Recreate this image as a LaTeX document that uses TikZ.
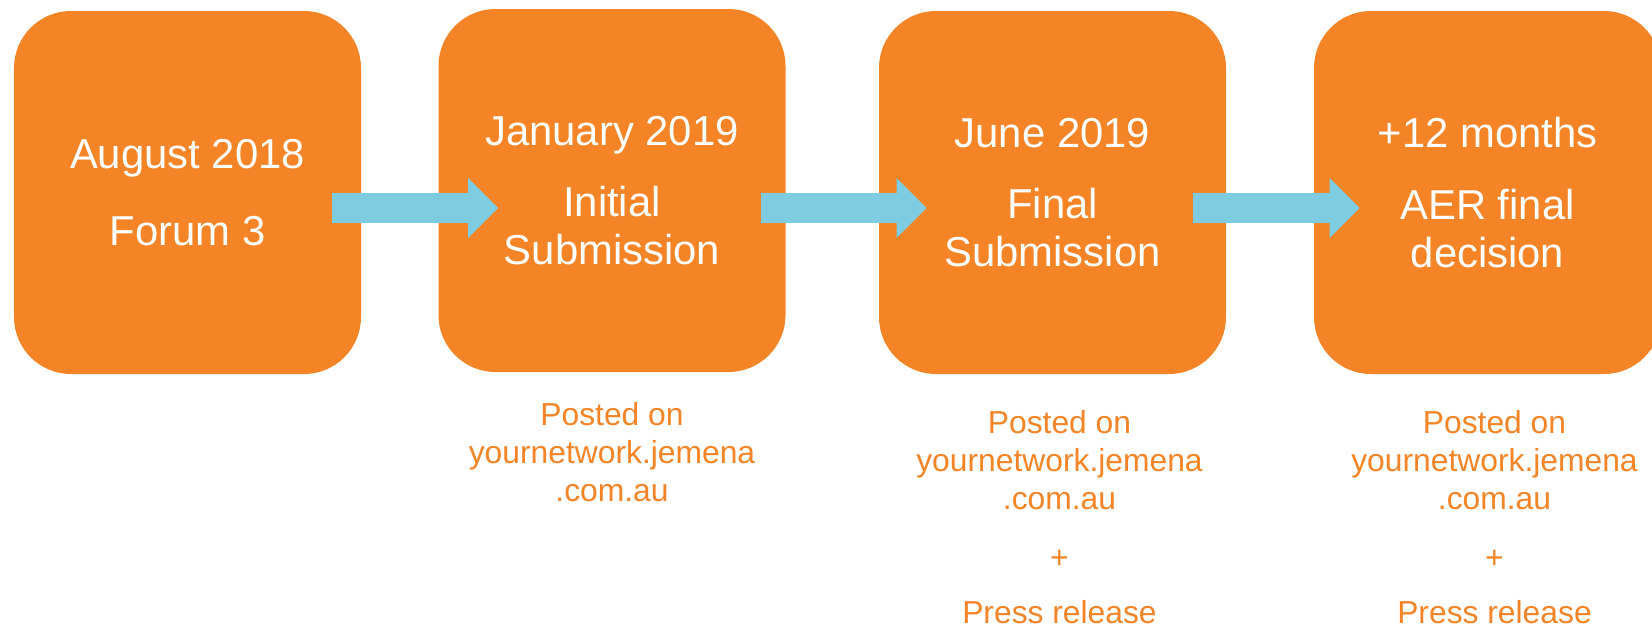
\documentclass[tikz,border=0pt]{standalone}
\usepackage{fontspec}
\setmainfont{Liberation Sans}
\usetikzlibrary{positioning,arrows.meta}
\definecolor{jemorange}{RGB}{244,132,37}
\definecolor{flowblue}{RGB}{126,204,224}

\begin{document}
\begin{tikzpicture}[
  stage/.style={fill=jemorange,rounded corners=1.14cm,minimum width=6.94cm,
                minimum height=7.26cm,inner sep=0pt,align=center,text=white,
                font=\fontsize{23.8}{27.2}\selectfont},
  note/.style={inner sep=0pt,align=center,text=jemorange,
               font=\fontsize{18.1}{21.55}\selectfont},
  flow/.style={draw=flowblue,line width=0.6cm,
               -{Triangle[length=0.6cm,width=1.2cm,line width=0pt]}}]
  \useasboundingbox (0,0) rectangle (33.04,-12.6);
  \node[stage] (aug) at (3.75,-3.85)  {August 2018\\[16.5pt]Forum 3};
  \node[stage] (jan) at (12.24,-3.81) {January 2019\\[13.6pt]Initial\\Submission};
  \node[stage] (jun) at (21.05,-3.85) {June 2019\\[13.6pt]Final\\Submission};
  \node[stage] (aer) at (29.75,-3.85) {+12 months\\[13.6pt]AER final\\decision};
  \draw[flow] ([xshift=-0.58cm,yshift=-0.31cm]aug.east) -- ([xshift=1.2cm,yshift=-0.35cm]jan.west);
  \draw[flow] ([xshift=-0.5cm,yshift=-0.35cm]jan.east) -- ([xshift=0.96cm,yshift=-0.31cm]jun.west);
  \draw[flow] ([xshift=-0.66cm,yshift=-0.31cm]jun.east) -- ([xshift=0.92cm,yshift=-0.31cm]aer.west);
  \node[note,below=0.6cm of jan] (janpost) {Posted on\\yournetwork.jemena\\.com.au};
  \node[note,below=0.72cm of jun,xshift=0.14cm] (junpost)
    {Posted on\\yournetwork.jemena\\.com.au\\[12pt]+\\[9.7pt]Press release};
  \node[note,below=0.72cm of aer,xshift=0.14cm] (aerpost)
    {Posted on\\yournetwork.jemena\\.com.au\\[12pt]+\\[9.7pt]Press release};
\end{tikzpicture}
\end{document}
